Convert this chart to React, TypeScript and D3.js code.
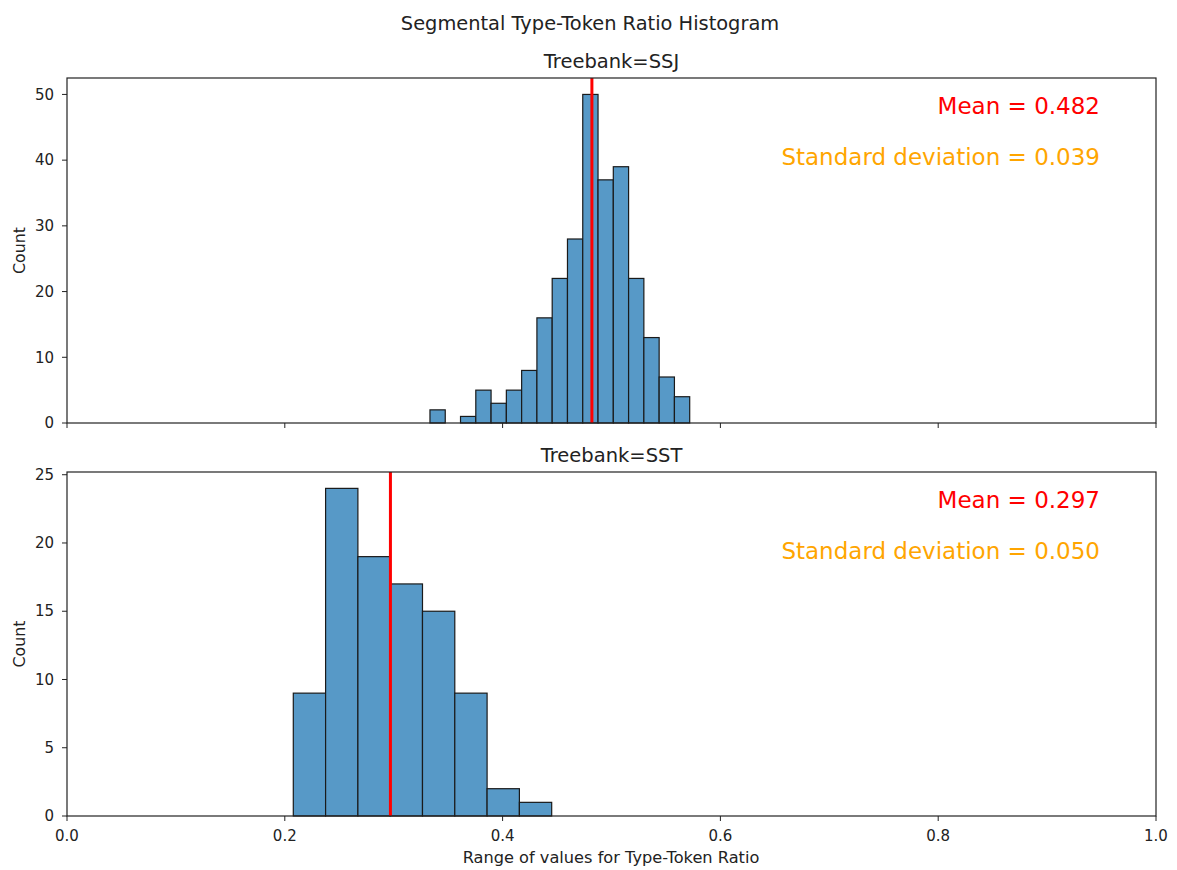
import React from "react";
import * as d3 from "d3";

// Segmental type-token ratio histograms for two treebanks
const ssjBinStart = 0.3333;
const ssjBinWidth = 0.01403;
const ssjCounts = [2, 0, 1, 5, 3, 5, 8, 16, 22, 28, 50, 37, 39, 22, 13, 7, 4];
const ssjMean = 0.482;
const ssjStd = 0.039;

const sstBinStart = 0.2078;
const sstBinWidth = 0.02966;
const sstCounts = [9, 24, 19, 17, 15, 9, 2, 1];
const sstMean = 0.297;
const sstStd = 0.05;

const xTicks = [0, 0.2, 0.4, 0.6, 0.8, 1.0];
const ssjYTicks = [0, 10, 20, 30, 40, 50];
const sstYTicks = [0, 5, 10, 15, 20, 25];

const W = 1177;
const H = 870;
const FONT = "DejaVu Sans, sans-serif";
const BAR = "#5799c7";
const TEXT = "#222";
const TICK_FS = 15;

type PanelProps = {
  title: string;
  top: number;
  bottom: number;
  binStart: number;
  binWidth: number;
  counts: number[];
  mean: number;
  std: number;
  yTicks: number[];
  showXLabels: boolean;
};

const x = d3.scaleLinear().domain([0, 1]).range([67, 1156]);

function Panel(p: PanelProps) {
  const maxC = d3.max(p.counts) as number;
  const y = d3.scaleLinear().domain([0, maxC * 1.05]).range([p.bottom, p.top]);
  const [x0, x1] = x.range();
  return (
    <g>
      <text x={(x0 + x1) / 2} y={p.top - 10} textAnchor="middle" fontSize={19.5} fill={TEXT} fontFamily={FONT}>
        {p.title}
      </text>
      {p.counts.map((c, i) => {
        if (c === 0) return null;
        const a = p.binStart + i * p.binWidth;
        const b = a + p.binWidth;
        return (
          <rect
            key={i}
            x={x(a)}
            y={y(c)}
            width={x(b) - x(a)}
            height={y(0) - y(c)}
            fill={BAR}
            stroke="#1a1a1a"
            strokeWidth={1.2}
          />
        );
      })}
      <line x1={x(p.mean)} x2={x(p.mean)} y1={p.top} y2={p.bottom} stroke="#ff0000" strokeWidth={3} />
      <text x={1100} y={p.top + 36} textAnchor="end" fontSize={23} fill="#ff0000" fontFamily={FONT}>
        {`Mean = ${p.mean.toFixed(3)}`}
      </text>
      <text x={1100} y={p.top + 87} textAnchor="end" fontSize={23} fill="#ffa500" fontFamily={FONT}>
        {`Standard deviation = ${p.std.toFixed(3)}`}
      </text>
      <rect x={x0} y={p.top} width={x1 - x0} height={p.bottom - p.top} fill="none" stroke="#222" strokeWidth={1.2} />
      {p.yTicks.map((t) => (
        <g key={t}>
          <line x1={x0 - 5} x2={x0} y1={y(t)} y2={y(t)} stroke="#222" strokeWidth={1} />
          <text x={x0 - 13} y={y(t)} dy="0.35em" textAnchor="end" fontSize={TICK_FS} fill={TEXT} fontFamily={FONT}>
            {t}
          </text>
        </g>
      ))}
      {xTicks.map((t) => (
        <g key={t}>
          <line x1={x(t)} x2={x(t)} y1={p.bottom} y2={p.bottom + 5} stroke="#222" strokeWidth={1} />
          {p.showXLabels && (
            <text x={x(t)} y={p.bottom + 25} textAnchor="middle" fontSize={TICK_FS} fill={TEXT} fontFamily={FONT}>
              {t.toFixed(1)}
            </text>
          )}
        </g>
      ))}
      <text
        transform={`translate(25,${(p.top + p.bottom) / 2}) rotate(-90)`}
        textAnchor="middle"
        fontSize={15.8}
        fill={TEXT}
        fontFamily={FONT}
      >
        Count
      </text>
    </g>
  );
}

export default function App() {
  return (
    <svg width={W} height={H} style={{ position: "absolute", left: 0, top: 0, background: "#fff" }}>
      <text x={590} y={30} textAnchor="middle" fontSize={19.4} fill={TEXT} fontFamily={FONT}>
        Segmental Type-Token Ratio Histogram
      </text>
      <Panel
        title="Treebank=SSJ"
        top={78}
        bottom={423}
        binStart={ssjBinStart}
        binWidth={ssjBinWidth}
        counts={ssjCounts}
        mean={ssjMean}
        std={ssjStd}
        yTicks={ssjYTicks}
        showXLabels={false}
      />
      <Panel
        title="Treebank=SST"
        top={472}
        bottom={816}
        binStart={sstBinStart}
        binWidth={sstBinWidth}
        counts={sstCounts}
        mean={sstMean}
        std={sstStd}
        yTicks={sstYTicks}
        showXLabels={true}
      />
      <text x={611} y={863} textAnchor="middle" fontSize={16.2} fill={TEXT} fontFamily={FONT}>
        Range of values for Type-Token Ratio
      </text>
    </svg>
  );
}
